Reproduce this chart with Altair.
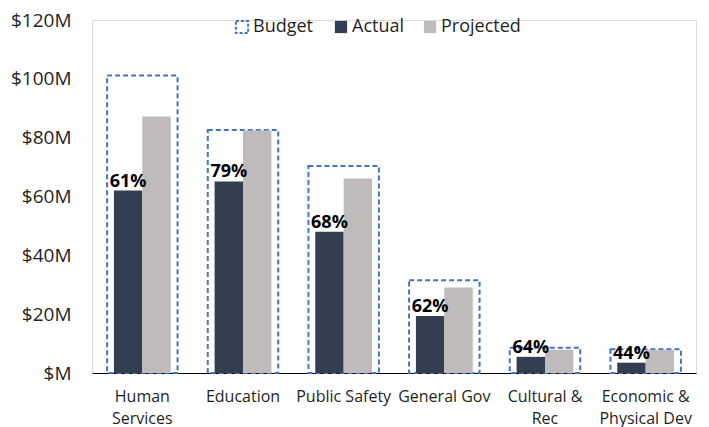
import altair as alt
import pandas as pd

categories = ["Human Services", "Education", "Public Safety", "General Gov",
              "Cultural & Rec", "Economic & Physical Dev"]
axis_labels = ["Human\nServices", "Education", "Public Safety", "General Gov",
               "Cultural &\nRec", "Economic &\nPhysical Dev"]
budget = [101.1, 82.6, 70.4, 31.5, 8.6, 8.1]
actual = [62.0, 65.1, 48.0, 19.4, 5.5, 3.5]
projected = [87.2, 82.4, 66.1, 29.1, 7.9, 7.8]
pct = [61, 79, 68, 62, 64, 44]
y_ticks = [0, 20, 40, 60, 80, 100, 120]

FONT = "Open Sans"
TXT = "#1f1f1f"

budget_df = pd.DataFrame({"cat": axis_labels, "value": budget, "kind": ["Budget"] * 6})
bars_df = pd.DataFrame({
    "cat": axis_labels * 2,
    "series": ["Actual"] * 6 + ["Projected"] * 6,
    "value": actual + projected,
})
text_df = pd.DataFrame({
    "cat": axis_labels,
    "series": ["Actual"] * 6,
    "value": actual,
    "label": [f"{p}%" for p in pct],
})

x_enc = alt.X("cat:N", sort=axis_labels,
              scale=alt.Scale(paddingInner=0.3, paddingOuter=0.15),
              axis=alt.Axis(title=None, labelAngle=0, ticks=False, domainColor="#000000",
                            labelFont=FONT, labelFontSize=16, labelColor=TXT,
                            labelPadding=15, labelLineHeight=22,
                            labelExpr="split(datum.label, '\\n')"))
y_enc = alt.Y("value:Q", scale=alt.Scale(domain=[0, 120], nice=False),
              axis=alt.Axis(title=None, values=y_ticks, grid=False, ticks=False,
                            domainColor="#D9D9D9", labelFont=FONT, labelFontSize=19,
                            labelColor=TXT, labelPadding=21,
                            labelExpr="'$' + (datum.value == 0 ? '' : datum.value) + 'M'"))

box = alt.Chart(budget_df).mark_bar(fill="transparent", strokeDash=[5, 3], strokeWidth=2).encode(
    x=x_enc, y=y_enc,
    stroke=alt.Stroke("kind:N", scale=alt.Scale(domain=["Budget"], range=["#4472C4"]),
                      legend=alt.Legend(orient="none", legendX=141, legendY=-2, title=None,
                                        symbolType="square", symbolSize=150,
                                        symbolDash=[3, 2], symbolStrokeWidth=2,
                                        symbolFillColor="transparent",
                                        labelFont=FONT, labelFontSize=18, labelColor=TXT,
                                        labelOffset=2)),
)

bars = alt.Chart(bars_df).mark_bar().encode(
    x=x_enc, y=y_enc,
    xOffset=alt.XOffset("series:N", sort=["Actual", "Projected"],
                        scale=alt.Scale(paddingInner=0, paddingOuter=0.24)),
    color=alt.Color("series:N", scale=alt.Scale(domain=["Actual", "Projected"],
                                               range=["#333F50", "#BFBBBB"]),
                    legend=alt.Legend(orient="none", legendX=240, legendY=-2, title=None,
                                      direction="horizontal", symbolType="square",
                                      symbolSize=150, symbolStrokeWidth=0,
                                      columnPadding=16, labelFont=FONT, labelFontSize=18,
                                      labelColor=TXT, labelOffset=2)),
)

labels = alt.Chart(text_df).mark_text(font=FONT, fontSize=18, fontWeight="bold",
                                      color="#000000", baseline="alphabetic", dy=-4,
                                      align="center").encode(
    x=x_enc, y=y_enc,
    xOffset=alt.XOffset("series:N", sort=["Actual", "Projected"]),
    text="label:N",
)

chart = alt.layer(box, bars, labels).properties(
    width=604, height=353,
    autosize=alt.AutoSizeParams(type="none"),
    padding={"left": 84, "top": 12, "right": 5, "bottom": 56},
).configure_view(stroke=None).configure(background="white")

chart.save("out.html", embed_options={"renderer": "svg", "actions": False})
